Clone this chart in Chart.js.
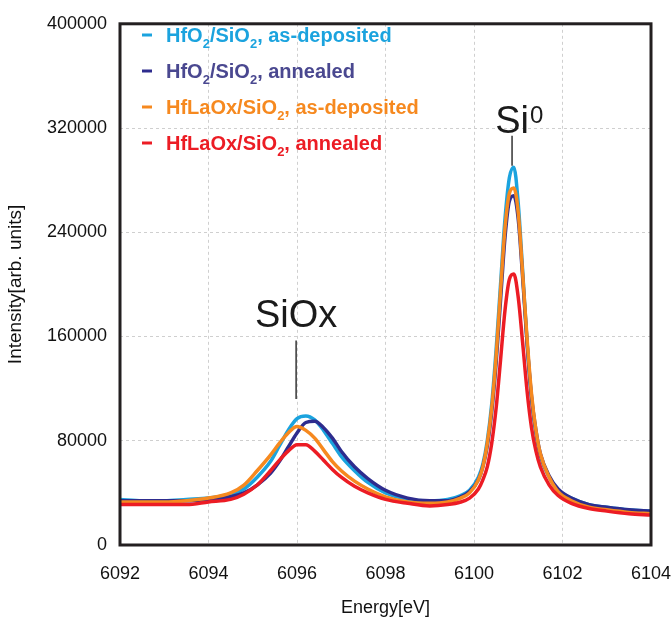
<!DOCTYPE html>
<html>
<head>
<meta charset="utf-8">
<script src="https://cdn.jsdelivr.net/npm/chart.js@4.4.1/dist/chart.umd.min.js"></script>
<style>
  html, body { margin: 0; padding: 0; background: #fff; }
  #wrap { width: 671px; height: 619px; }
</style>
</head>
<body>
<div id="wrap"><canvas id="c" width="671" height="619"></canvas></div>
<script>
// energy axis [eV]
const energy = [6092, 6092.5, 6093, 6093.5, 6094, 6094.5, 6094.8, 6095.1, 6095.4, 6095.6, 6095.8, 6096.0, 6096.2, 6096.4, 6096.6, 6096.8, 6097.0, 6097.3, 6097.6, 6098.0, 6098.5, 6099.0, 6099.4, 6099.7, 6099.9, 6100.1, 6100.2, 6100.3, 6100.4, 6100.5, 6100.6, 6100.7, 6100.8, 6100.9, 6101.0, 6101.1, 6101.2, 6101.3, 6101.4, 6101.5, 6101.7, 6101.9, 6102.2, 6102.6, 6103.0, 6103.5, 6104];

const hfo2AsDep = [35000, 34000, 34000, 35000, 36000, 39000, 43000, 52000, 64000, 76000, 88000, 97000, 99000, 96000, 88000, 78000, 68000, 57000, 48000, 40000, 35000, 34000, 35000, 38000, 42000, 52000, 62000, 80000, 108000, 150000, 200000, 250000, 282000, 290000, 262000, 210000, 155000, 112000, 85000, 68000, 52000, 42000, 36000, 31000, 29000, 27000, 26000];
const hfo2Anneal = [34000, 34000, 34000, 34000, 35000, 37000, 40000, 46000, 55000, 64000, 75000, 86000, 94000, 95000, 90000, 82000, 72000, 60000, 51000, 42000, 36000, 34000, 34000, 37000, 41000, 50000, 60000, 76000, 102000, 140000, 188000, 236000, 264000, 268000, 250000, 205000, 155000, 114000, 88000, 70000, 53000, 43000, 36000, 31000, 29000, 27000, 26000];
const hflaoxAsDep = [33000, 33000, 33000, 34000, 36000, 40000, 46000, 57000, 69000, 78000, 86000, 91000, 88000, 82000, 73000, 64000, 57000, 49000, 43000, 37000, 33000, 32000, 33000, 36000, 40000, 50000, 60000, 78000, 105000, 145000, 195000, 243000, 270000, 274000, 255000, 208000, 158000, 116000, 88000, 70000, 52000, 41000, 34000, 29000, 27000, 25000, 24000];
const hflaoxAnneal = [31000, 31000, 31000, 31000, 33000, 35000, 39000, 46000, 57000, 65000, 72000, 77000, 77000, 72000, 65000, 58000, 52000, 45000, 40000, 35000, 32000, 30000, 31000, 33000, 36000, 43000, 50000, 60000, 78000, 105000, 142000, 180000, 204000, 208000, 190000, 155000, 118000, 90000, 72000, 60000, 46000, 38000, 32000, 28000, 26000, 24000, 23000];

const seriesNames = ['HfO|2|/SiO|2|, as-deposited', 'HfO|2|/SiO|2|, annealed', 'HfLaOx/SiO|2|, as-deposited', 'HfLaOx/SiO|2|, annealed'];
const lineColors = ['#1ba3de', '#2e2c8e', '#f6891f', '#ec1c24'];
const textColors = ['#1ba3de', '#4a4890', '#f6891f', '#ec1c24'];

const xTicks = [6092, 6094, 6096, 6098, 6100, 6102, 6104];
const yTicks = [0, 80000, 160000, 240000, 320000, 400000];

const toPts = arr => energy.map((e, i) => ({ x: e, y: arr[i] }));
const allSeries = [hfo2AsDep, hfo2Anneal, hflaoxAsDep, hflaoxAnneal];

// legend drawn by hand because of the subscripts
const legendPlugin = {
  id: 'subLegend',
  afterDraw(chart) {
    const ctx = chart.ctx;
    ctx.save();
    seriesNames.forEach((name, i) => {
      const y = 35 + i * 36;
      ctx.strokeStyle = lineColors[i];
      ctx.lineWidth = 3;
      ctx.beginPath();
      ctx.moveTo(142, y);
      ctx.lineTo(152, y);
      ctx.stroke();
      let x = 166;
      ctx.fillStyle = textColors[i];
      ctx.textBaseline = 'alphabetic';
      ctx.textAlign = 'left';
      name.split('|').forEach((part, k) => {
        if (!part) return;
        const sub = k % 2 === 1;
        ctx.font = sub ? 'bold 13px "Liberation Sans", Arial' : 'bold 20px "Liberation Sans", Arial';
        ctx.fillText(part, x, y + 7 + (sub ? 6 : 0));
        x += ctx.measureText(part).width;
      });
    });
    ctx.restore();
  }
};

const annotPlugin = {
  id: 'annot',
  afterDatasetsDraw(chart) {
    const { ctx, scales: { x, y }, chartArea } = chart;
    ctx.save();
    // frame
    ctx.strokeStyle = '#231f20';
    ctx.lineWidth = 3;
    ctx.strokeRect(chartArea.left, chartArea.top, chartArea.right - chartArea.left, chartArea.bottom - chartArea.top);

    ctx.strokeStyle = '#333';
    ctx.lineWidth = 1.5;
    ctx.fillStyle = '#1a1a1a';
    ctx.textAlign = 'center';
    ctx.textBaseline = 'alphabetic';

    // SiOx
    const sx = x.getPixelForValue(6095.98);
    ctx.beginPath();
    ctx.moveTo(sx, y.getPixelForValue(157000));
    ctx.lineTo(sx, y.getPixelForValue(112000));
    ctx.stroke();
    ctx.font = '38px "Liberation Sans", Arial';
    ctx.fillText('SiOx', sx, y.getPixelForValue(167000));

    // Si0
    const px = x.getPixelForValue(6100.86);
    ctx.beginPath();
    ctx.moveTo(px, y.getPixelForValue(314000));
    ctx.lineTo(px, y.getPixelForValue(291000));
    ctx.stroke();
    const by = y.getPixelForValue(316000);
    ctx.font = '38px "Liberation Sans", Arial';
    ctx.fillText('Si', px, by);
    const w = ctx.measureText('Si').width;
    ctx.textAlign = 'left';
    ctx.font = '24px "Liberation Sans", Arial';
    ctx.fillText('0', px + w / 2 + 1, by - 10);
    ctx.restore();
  }
};

new Chart(document.getElementById('c'), {
  type: 'line',
  data: {
    datasets: allSeries.map((arr, i) => ({
      label: seriesNames[i].replace(/\|/g, ''),
      data: toPts(arr),
      borderColor: lineColors[i],
      borderWidth: 3.5,
      pointRadius: 0,
      cubicInterpolationMode: 'monotone',
      fill: false,
      order: 3 - i
    }))
  },
  options: {
    responsive: false,
    animation: false,
    layout: { padding: { left: 0, right: 0, top: 20, bottom: 0 } },
    plugins: {
      legend: { display: false },
      tooltip: { enabled: false }
    },
    scales: {
      x: {
        type: 'linear',
        min: 6092,
        max: 6104,
        afterBuildTicks: s => { s.ticks = xTicks.map(v => ({ value: v })); },
        afterFit: s => { s.height = 74; s.paddingRight = 20; s.paddingLeft = 0; },
        grid: { color: '#cfcfcf', lineWidth: 1, drawTicks: false, tickLength: 0 },
        border: { display: false, dash: [3, 3] },
        ticks: {
          padding: 18,
          color: '#111',
          font: { family: '"Liberation Sans", Arial', size: 18 },
          callback: v => String(v)
        },
        title: {
          display: true,
          text: 'Energy[eV]',
          color: '#111',
          padding: { top: 6, bottom: 0 },
          font: { family: '"Liberation Sans", Arial', size: 18 }
        }
      },
      y: {
        min: 0,
        max: 400000,
        afterBuildTicks: s => { s.ticks = yTicks.map(v => ({ value: v })); },
        afterFit: s => { s.width = 120; },
        grid: { color: '#cfcfcf', lineWidth: 1, drawTicks: false, tickLength: 0 },
        border: { display: false, dash: [3, 3] },
        ticks: {
          padding: 13,
          color: '#111',
          font: { family: '"Liberation Sans", Arial', size: 18 },
          callback: v => String(v)
        },
        title: {
          display: true,
          text: 'Intensity[arb. units]',
          color: '#111',
          padding: { top: 4, bottom: 6 },
          font: { family: '"Liberation Sans", Arial', size: 19 }
        }
      }
    }
  },
  plugins: [legendPlugin, annotPlugin]
});
</script>
</body>
</html>
